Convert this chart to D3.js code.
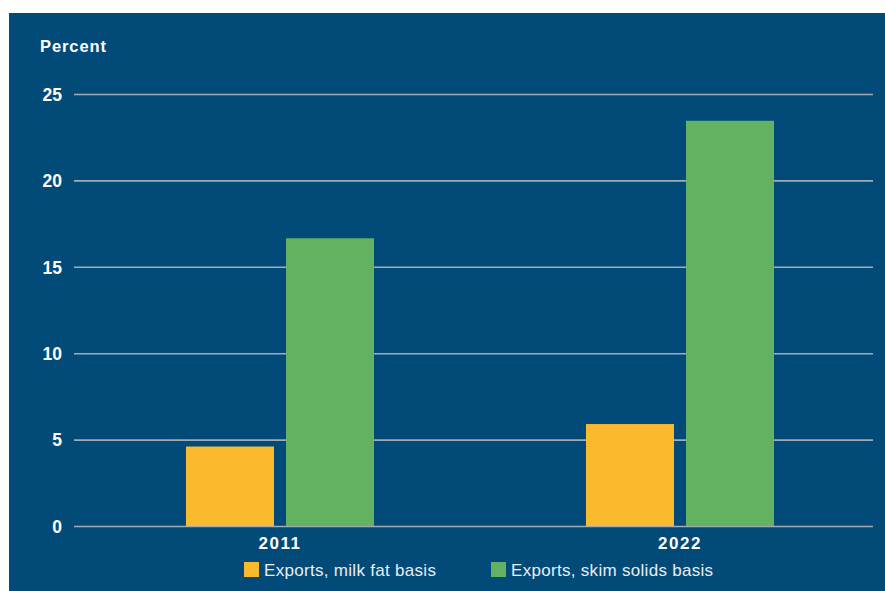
<!DOCTYPE html>
<html>
<head>
<meta charset="utf-8">
<script src="https://cdn.jsdelivr.net/npm/d3@7"></script>
<style>
  html, body { margin: 0; padding: 0; background: #ffffff; }
  svg { display: block; }
  text { font-family: "Liberation Sans", Arial, sans-serif; }
</style>
</head>
<body>
<svg id="chart" width="885" height="591"></svg>
<script>
// Dairy export shares, percent of production
const years = ["2011", "2022"];
const seriesNames = ["Exports, milk fat basis", "Exports, skim solids basis"];
const milkFat = [4.6, 5.9];
const skimSolids = [16.65, 23.45];
const yTicks = [0, 5, 10, 15, 20, 25];
const seriesColors = ["#fbb92d", "#62b262"];

const data = years.map((y, i) => ({ year: y, values: [milkFat[i], skimSolids[i]] }));

const svg = d3.select("#chart");
const W = 885, H = 591;

// panel background
svg.append("rect")
  .attr("x", 9).attr("y", 13)
  .attr("width", W - 9).attr("height", H - 13)
  .attr("fill", "#024a78");

const gridLeft = 74, gridRight = 873;
const y = d3.scaleLinear().domain([0, 25]).range([526, 94]);

const x0 = d3.scaleBand().domain(years).range([80, 880])
  .paddingInner(0.53).paddingOuter(0.265);
const x1 = d3.scaleBand().domain(d3.range(seriesNames.length))
  .range([0, x0.bandwidth()]).paddingInner(0.12).paddingOuter(0);

// horizontal gridlines with tick labels
const yAxis = d3.axisLeft(y).tickValues(yTicks)
  .tickSize(-(gridRight - gridLeft)).tickPadding(12).tickFormat(d3.format("d"));
const gy = svg.append("g")
  .attr("transform", `translate(${gridLeft},0)`)
  .call(yAxis);
gy.select(".domain").remove();
gy.selectAll(".tick line")
  .attr("stroke", "#a2acb6").attr("stroke-width", 1.6);
gy.selectAll(".tick text")
  .attr("fill", "#ffffff")
  .attr("font-size", 17.5).attr("font-weight", "bold")
  .attr("dy", "0.36em");

// axis title
svg.append("text")
  .attr("x", 40).attr("y", 52)
  .attr("fill", "#ffffff")
  .attr("font-size", 16.5).attr("font-weight", "bold")
  .attr("letter-spacing", 0.9)
  .text("Percent");

// bars
const groups = svg.append("g").selectAll("g")
  .data(data).join("g")
  .attr("transform", d => `translate(${x0(d.year)},0)`);

groups.selectAll("rect")
  .data(d => d.values.map((v, k) => ({ v, k })))
  .join("rect")
  .attr("x", d => x1(d.k))
  .attr("width", x1.bandwidth())
  .attr("y", d => y(d.v))
  .attr("height", d => y(0) - y(d.v))
  .attr("fill", d => seriesColors[d.k]);

// category labels
svg.append("g").selectAll("text")
  .data(years).join("text")
  .attr("x", d => x0(d) + x0.bandwidth() / 2)
  .attr("y", 549)
  .attr("text-anchor", "middle")
  .attr("fill", "#ffffff")
  .attr("font-size", 17).attr("font-weight", "bold")
  .attr("letter-spacing", 1.5)
  .text(d => d);

// legend
const legendX = [244, 491];
const legend = svg.append("g").selectAll("g")
  .data(seriesNames).join("g")
  .attr("transform", (d, i) => `translate(${legendX[i]},562)`);
legend.append("rect")
  .attr("width", 15).attr("height", 15)
  .attr("fill", (d, i) => seriesColors[i]);
legend.append("text")
  .attr("x", 20).attr("y", 14)
  .attr("fill", "#e8eef3")
  .attr("font-size", 17)
  .attr("letter-spacing", 0.3)
  .text(d => d);
</script>
</body>
</html>
